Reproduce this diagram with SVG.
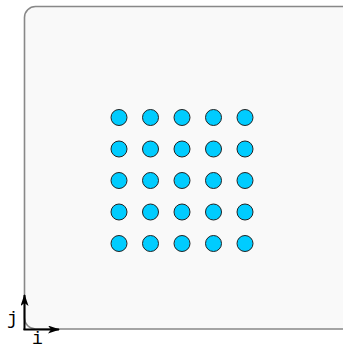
<svg xmlns="http://www.w3.org/2000/svg" width="343" height="348" viewBox="0 0 343 348">
<defs>
<marker id="ah" markerWidth="12" markerHeight="8" refX="11" refY="4" orient="auto" markerUnits="userSpaceOnUse">
<path d="M0,0 L12,4 L0,8 L3,4 Z" fill="#000"/>
</marker>
<style>
.pt{fill:#00ccff;stroke:#222;stroke-width:1}
.lbl{font-family:"Liberation Mono","DejaVu Sans Mono",monospace;font-size:18px;fill:#000}
</style>
</defs>
<g id="frame">
<rect x="24.5" y="6.5" width="340" height="322.5" rx="11" ry="11" fill="#f9f9f9" stroke="#888" stroke-width="1.6"/>
</g>
<g id="points">
<circle class="pt" cx="119" cy="117.5" r="8"/><circle class="pt" cx="150.5" cy="117.5" r="8"/><circle class="pt" cx="182" cy="117.5" r="8"/><circle class="pt" cx="213.5" cy="117.5" r="8"/><circle class="pt" cx="245" cy="117.5" r="8"/>
<circle class="pt" cx="119" cy="149" r="8"/><circle class="pt" cx="150.5" cy="149" r="8"/><circle class="pt" cx="182" cy="149" r="8"/><circle class="pt" cx="213.5" cy="149" r="8"/><circle class="pt" cx="245" cy="149" r="8"/>
<circle class="pt" cx="119" cy="180.5" r="8"/><circle class="pt" cx="150.5" cy="180.5" r="8"/><circle class="pt" cx="182" cy="180.5" r="8"/><circle class="pt" cx="213.5" cy="180.5" r="8"/><circle class="pt" cx="245" cy="180.5" r="8"/>
<circle class="pt" cx="119" cy="212" r="8"/><circle class="pt" cx="150.5" cy="212" r="8"/><circle class="pt" cx="182" cy="212" r="8"/><circle class="pt" cx="213.5" cy="212" r="8"/><circle class="pt" cx="245" cy="212" r="8"/>
<circle class="pt" cx="119" cy="243.5" r="8"/><circle class="pt" cx="150.5" cy="243.5" r="8"/><circle class="pt" cx="182" cy="243.5" r="8"/><circle class="pt" cx="213.5" cy="243.5" r="8"/><circle class="pt" cx="245" cy="243.5" r="8"/>
</g>
<g id="connectors">
<line x1="24.5" y1="330" x2="24.5" y2="295" stroke="#000" stroke-width="2" marker-end="url(#ah)"/>
<line x1="23.5" y1="329.5" x2="59" y2="329.5" stroke="#000" stroke-width="2" marker-end="url(#ah)"/>
</g>
<g id="labels">
<text class="lbl" x="7" y="324">j</text>
<text class="lbl" x="32" y="344">i</text>
</g>
</svg>
